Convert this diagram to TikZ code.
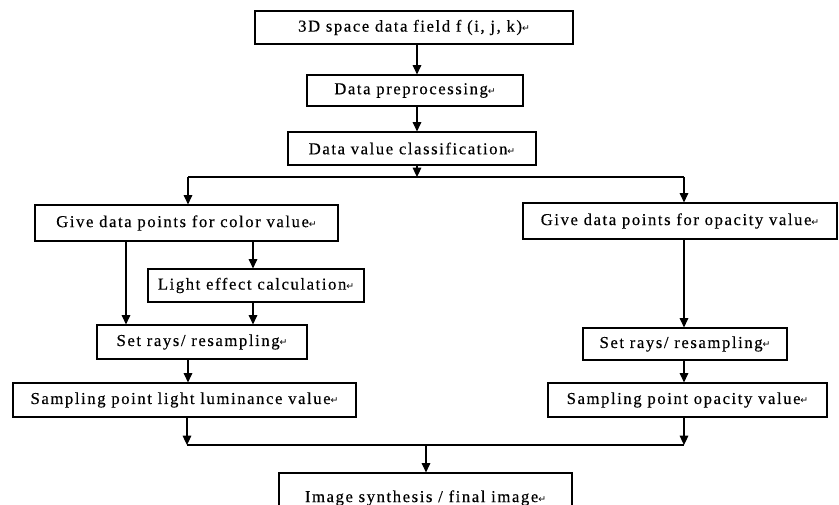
\documentclass[tikz,border=0pt]{standalone}
\usepackage{fontspec}
\setmainfont{Liberation Serif}[LetterSpace=9.5, FakeBold=0.35]
\newfontfamily\markfont{DejaVu Sans}
\usetikzlibrary{arrows.meta}
\newcommand{\pmark}{{\markfont\fontsize{7pt}{7pt}\selectfont ↵}}

\begin{document}
\begin{tikzpicture}[x=0.75pt, y=-0.75pt,
    box/.style={draw, line width=0.9pt, inner sep=0pt, font=\fontsize{12.5pt}{14pt}\selectfont},
    arr/.style={-{Triangle[length=7pt, width=6.5pt]}, line width=0.8pt}]
    \clip (0, 0) rectangle (839, 504);

    \node[box, minimum width=238.5pt, minimum height=24.75pt] (field) at (414, 27.5) {3D space data field f (i, j, k)\pmark};
    \node[box, minimum width=162pt, minimum height=23.25pt] (prep) at (415, 90.5) {Data preprocessing\pmark};
    \node[box, minimum width=186pt, minimum height=24.75pt] (classif) at (412, 148.5) {Data value classification\pmark};

    \node[box, minimum width=227.25pt, minimum height=27pt] (color) at (186.5, 223) {Give data points for color value\pmark};
    \node[box, minimum width=235.5pt, minimum height=27pt] (opacity) at (680, 221) {Give data points for opacity value\pmark};
    \node[box, minimum width=162pt, minimum height=24.75pt] (light) at (256, 285.5) {Light effect calculation\pmark};
    \node[box, minimum width=157.5pt, minimum height=25.5pt] (raysL) at (202, 342) {Set rays/ resampling\pmark};
    \node[box, minimum width=153pt, minimum height=24pt] (raysR) at (685, 344) {Set rays/ resampling\pmark};
    \node[box, minimum width=257.25pt, minimum height=25.5pt] (lum) at (184.5, 400) {Sampling point light luminance value\pmark};
    \node[box, minimum width=209.25pt, minimum height=25.5pt] (opval) at (687.5, 400) {Sampling point opacity value\pmark};
    \node[box, minimum width=219.75pt, minimum height=37.5pt] (image) at (425.5, 498) {Image synthesis / final image\pmark};

    \coordinate (split) at (417, 177);
    \coordinate (splitL) at (188, 177);
    \coordinate (splitR) at (684, 177);
    \coordinate (laneA) at (126, 0);
    \coordinate (laneB) at (253, 0);
    \coordinate (merge) at (426, 445);
    \coordinate (mergeL) at (187, 445);
    \coordinate (mergeR) at (684, 445);

    \draw[arr] (field.south -| split) -- (prep.north -| split);
    \draw[arr] (prep.south -| split) -- (classif.north -| split);
    \draw[arr] (classif.south -| split) -- (split);
    \draw[line width=0.8pt] (splitL) -- (splitR);
    \draw[arr] (splitL) -- (color.north -| splitL);
    \draw[arr] (splitR) -- (opacity.north -| splitR);

    \draw[arr] (color.south -| laneA) -- (raysL.north -| laneA);
    \draw[arr] (color.south -| laneB) -- (light.north -| laneB);
    \draw[arr] (light.south -| laneB) -- (raysL.north -| laneB);
    \draw[arr] (raysL.south -| splitL) -- (lum.north -| splitL);
    \draw[arr] (opacity.south -| splitR) -- (raysR.north -| splitR);
    \draw[arr] (raysR.south -| splitR) -- (opval.north -| splitR);

    \draw[arr] (lum.south -| mergeL) -- (mergeL);
    \draw[arr] (opval.south -| mergeR) -- (mergeR);
    \draw[line width=0.8pt] (mergeL) -- (mergeR);
    \draw[arr] (merge) -- (image.north -| merge);
\end{tikzpicture}
\end{document}
